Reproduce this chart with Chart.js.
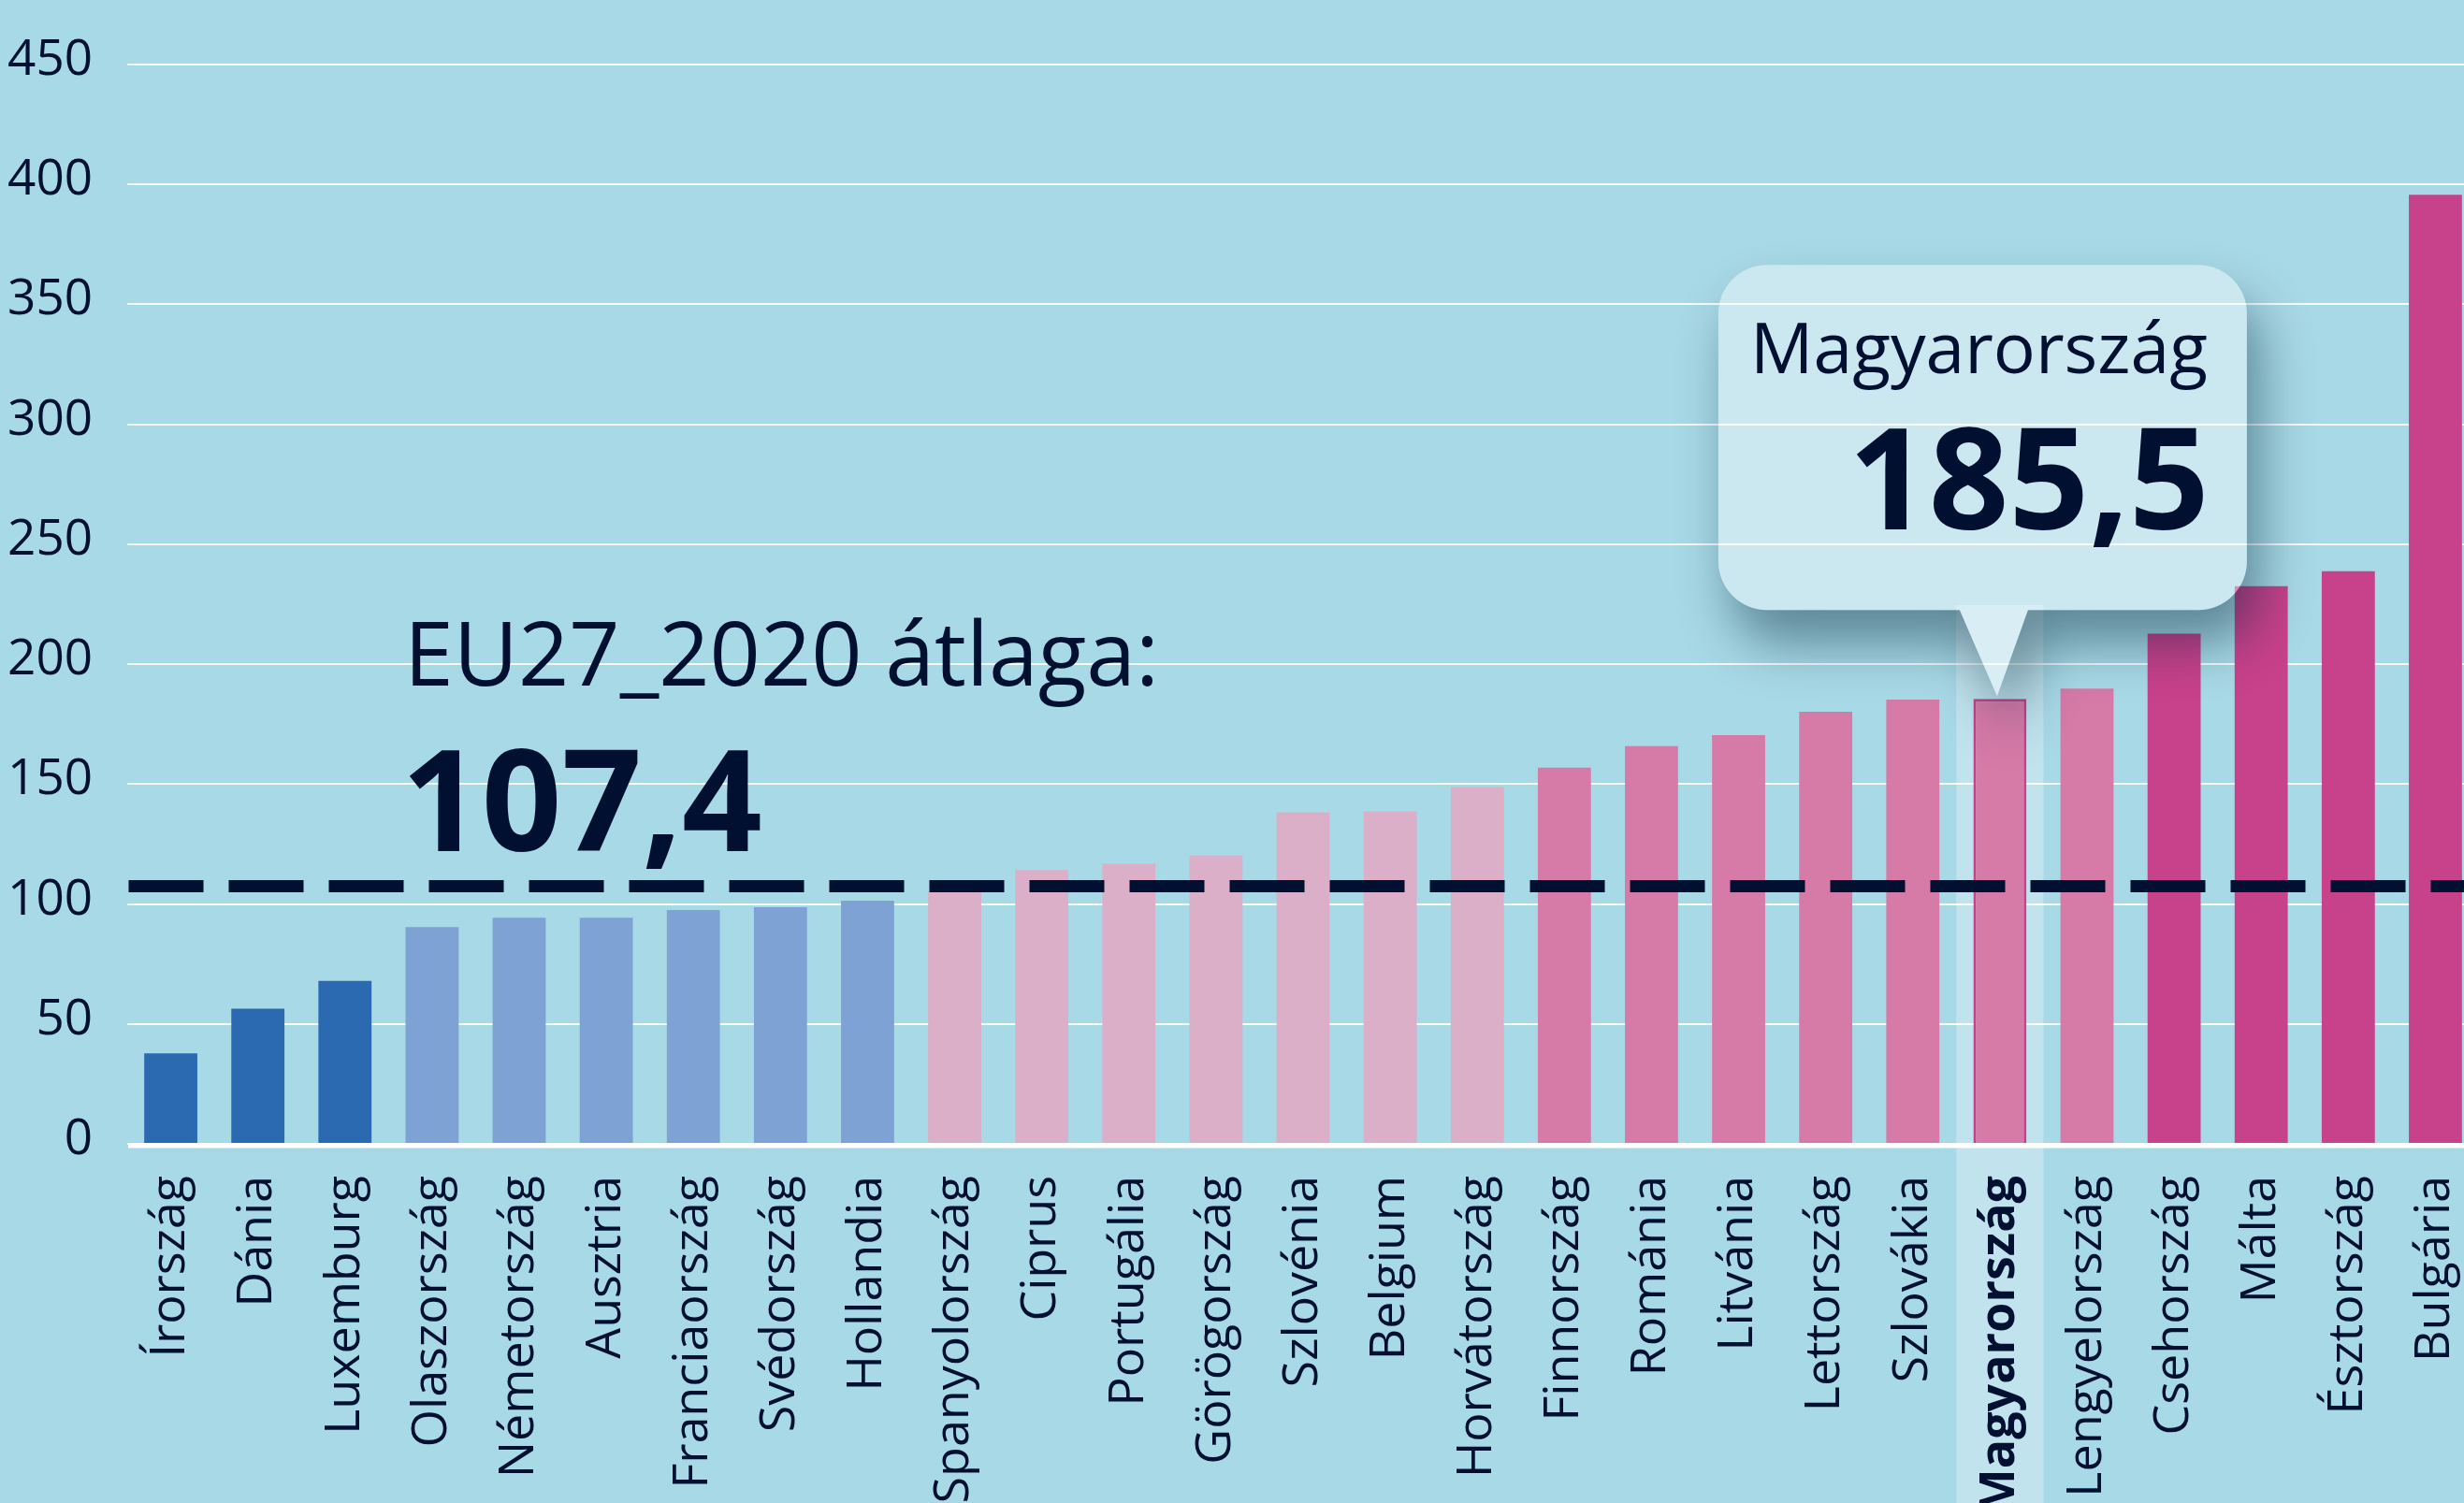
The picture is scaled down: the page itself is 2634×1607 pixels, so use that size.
<!DOCTYPE html>
<html lang="hu">
<head>
<meta charset="utf-8">
<title>EU27_2020 átlaga</title>
<script src="https://cdn.jsdelivr.net/npm/chart.js@4.4.1/dist/chart.umd.min.js"></script>
<style>
    html, body { margin: 0; padding: 0; overflow: hidden; background: #a8d9e6; }
    .wrap { position: relative; width: 2650px; height: 1607px; }
</style>
</head>
<body>
<div class="wrap"><canvas id="chart"></canvas></div>
<script>
// Data
const countries = ['Írország', 'Dánia', 'Luxemburg', 'Olaszország', 'Németország', 'Ausztria',
    'Franciaország', 'Svédország', 'Hollandia', 'Spanyolország', 'Ciprus', 'Portugália',
    'Görögország', 'Szlovénia', 'Belgium', 'Horvátország', 'Finnország', 'Románia', 'Litvánia',
    'Lettország', 'Szlovákia', 'Magyarország', 'Lengyelország', 'Csehország', 'Málta',
    'Észtország', 'Bulgária'];
const values = [37.7, 56.3, 67.9, 90.4, 94.3, 94.3, 97.5, 98.6, 101.4, 105.3, 114.1, 116.8,
    120.3, 138.2, 138.6, 148.7, 156.8, 165.8, 170.4, 180.1, 185.2, 185.5, 189.8, 212.7,
    232.5, 238.7, 395.6];
const groups = [0, 0, 0, 1, 1, 1, 1, 1, 1, 2, 2, 2, 2, 2, 2, 2, 3, 3, 3, 3, 3, 3, 3, 4, 4, 4, 4];
const groupColors = ['#2b6ab0', '#7fa2d4', '#dbafc7', '#d67aa8', '#c8418b'];

const yMin = 0;
const yMax = 450;
const yStep = 50;

const euAverage = 107.4;
const averageTitle = 'EU27_2020 átlaga:';
const averageLabel = '107,4';
const highlightName = 'Magyarország';
const highlightLabel = '185,5';

// Styles
const BG = '#a8d9e6';
const NAVY = '#010f31';
const FONT = "'Open Sans', 'DejaVu Sans', sans-serif";

const hlIndex = countries.indexOf(highlightName);
const barColors = groups.map(g => groupColors[g]);

function calloutPath(ctx, l, t, r, b, rad, p1, p2, tipX, tipY) {
    ctx.moveTo(l + rad, t);
    ctx.arcTo(r, t, r, b, rad);
    ctx.arcTo(r, b, l, b, rad);
    ctx.lineTo(p2, b);
    ctx.lineTo(tipX, tipY);
    ctx.lineTo(p1, b);
    ctx.arcTo(l, b, l, t, rad);
    ctx.arcTo(l, t, r, t, rad);
    ctx.closePath();
}

const overlay = {
    id: 'overlay',
    beforeDraw(chart) {
        const { ctx, width, height, scales: { x, y } } = chart;
        ctx.save();
        ctx.fillStyle = BG;
        ctx.fillRect(0, 0, width, height);
        // lighter band behind the highlighted country
        const cx = x.getPixelForValue(hlIndex);
        const half = (x.getPixelForValue(1) - x.getPixelForValue(0)) / 2;
        const top = y.getPixelForValue(values[hlIndex]) - 100;
        ctx.fillStyle = 'rgba(255,255,255,0.28)';
        ctx.fillRect(cx - half, top, half * 2, height - top);
        ctx.restore();
    },
    afterDatasetsDraw(chart) {
        const { ctx, width, height, chartArea, scales: { x, y } } = chart;
        ctx.save();

        // zero line
        const y0 = y.getPixelForValue(0);
        ctx.strokeStyle = '#ffffff';
        ctx.lineWidth = 5;
        ctx.beginPath();
        ctx.moveTo(chartArea.left + 1, y0 + 2);
        ctx.lineTo(width, y0 + 2);
        ctx.stroke();

        // EU average dashed line
        const ya = y.getPixelForValue(euAverage);
        ctx.strokeStyle = NAVY;
        ctx.lineWidth = 13;
        ctx.setLineDash([80, 27]);
        ctx.beginPath();
        ctx.moveTo(chartArea.left + 1.5, ya);
        ctx.lineTo(width, ya);
        ctx.stroke();
        ctx.setLineDash([]);

        // average text
        ctx.fillStyle = NAVY;
        ctx.textAlign = 'left';
        ctx.textBaseline = 'alphabetic';
        ctx.font = `400 95px ${FONT}`;
        ctx.fillText(averageTitle, 432, ya - 215);
        ctx.font = `700 150px ${FONT}`;
        ctx.fillText(averageLabel, 429, ya - 38);

        // callout for the highlighted country
        const tipX = x.getPixelForValue(hlIndex) - 3;
        const tipY = y.getPixelForValue(values[hlIndex]) - 3;
        const l = tipX - 298, r = tipX + 267, t = tipY - 461, b = tipY - 92;
        const p1 = tipX - 40, p2 = tipX + 33;
        const rad = 52;

        // shadow, kept outside the translucent box
        const OFF = 5000;
        ctx.save();
        ctx.beginPath();
        ctx.rect(0, 0, width, height);
        calloutPath(ctx, l, t, r, b, rad, p1, p2, tipX, tipY);
        ctx.clip('evenodd');
        ctx.shadowColor = 'rgba(0, 35, 55, 0.45)';
        ctx.shadowBlur = 55;
        ctx.shadowOffsetX = OFF + 14;
        ctx.shadowOffsetY = 36;
        ctx.fillStyle = '#000';
        ctx.beginPath();
        calloutPath(ctx, l - OFF, t, r - OFF, b, rad, p1 - OFF, p2 - OFF, tipX - OFF, tipY);
        ctx.fill();
        ctx.restore();

        ctx.fillStyle = 'rgba(255,255,255,0.4)';
        ctx.beginPath();
        calloutPath(ctx, l, t, r, b, rad, p1, p2, tipX, tipY);
        ctx.fill();

        ctx.fillStyle = NAVY;
        ctx.textAlign = 'right';
        ctx.font = `400 75px ${FONT}`;
        ctx.fillText(highlightName, r - 42, t + 116);
        ctx.font = `700 150px ${FONT}`;
        ctx.fillText(highlightLabel, r - 40, t + 283);

        ctx.restore();
    }
};

const chart = new Chart(document.getElementById('chart'), {
    type: 'bar',
    data: {
        labels: countries,
        datasets: [{
            data: values,
            backgroundColor: barColors,
            borderColor: barColors.map((c, i) => i === hlIndex ? '#c8418b' : 'rgba(0,0,0,0)'),
            borderWidth: countries.map((c, i) => i === hlIndex ? 3 : 0),
            barPercentage: 0.61,
            categoryPercentage: 1
        }]
    },
    options: {
        responsive: true,
        maintainAspectRatio: false,
        animation: false,
        layout: { padding: { top: 63, left: 0, right: 0, bottom: 0 } },
        plugins: {
            legend: { display: false },
            tooltip: { enabled: false }
        },
        scales: {
            x: {
                grid: { display: false, drawTicks: false },
                border: { display: false },
                afterFit: scale => {
                    scale.height = 384;
                    scale.paddingLeft = 0;
                    scale.paddingRight = 0;
                },
                ticks: {
                    color: NAVY,
                    padding: 34,
                    minRotation: 90,
                    maxRotation: 90,
                    autoSkip: false,
                    font: c => ({
                        family: FONT,
                        size: 52,
                        weight: c.index === hlIndex ? 'bold' : 'normal'
                    })
                }
            },
            y: {
                min: yMin,
                max: yMax,
                afterFit: scale => { scale.width = 136; },
                grid: {
                    color: 'rgba(255,255,255,0.9)',
                    lineWidth: 2,
                    drawTicks: false
                },
                border: { display: false },
                ticks: {
                    stepSize: yStep,
                    color: NAVY,
                    padding: 37,
                    labelOffset: -4,
                    font: { family: FONT, size: 53 }
                }
            }
        }
    },
    plugins: [overlay]
});
</script>
</body>
</html>
